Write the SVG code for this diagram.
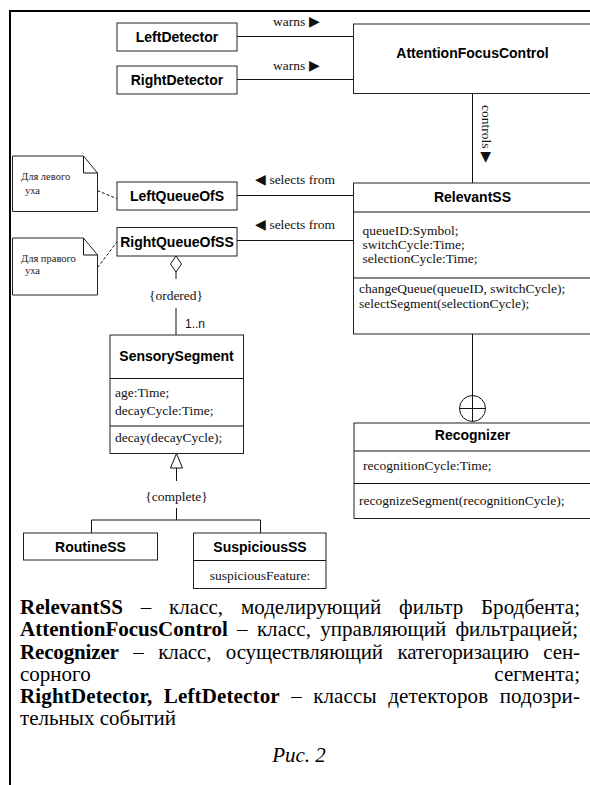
<svg xmlns="http://www.w3.org/2000/svg" width="590" height="785" viewBox="0 0 590 785">
<style>
.box{fill:#fff;stroke:#222;stroke-width:1}
.ln{fill:none;stroke:#111;stroke-width:1}
.dash{fill:none;stroke:#111;stroke-width:1;stroke-dasharray:3 2}
.frame{fill:none;stroke:#000;stroke-width:2}
.cn{font-family:"Liberation Sans",Arial,sans-serif;font-weight:bold;font-size:14px;text-anchor:middle;fill:#000}
.at{font-family:"Liberation Serif","Times New Roman",serif;font-size:13.5px;fill:#111}
.lb{font-family:"Liberation Serif","Times New Roman",serif;font-size:13.5px;fill:#111}
.nt{font-family:"Liberation Serif","Times New Roman",serif;font-size:10.5px;fill:#222}
.mul{font-family:"Liberation Sans",Arial,sans-serif;font-size:12px;fill:#111}
.cap{font-family:"Liberation Serif","Times New Roman",serif;font-size:21px;fill:#000}
.b{font-weight:bold}
</style>
<g id="frame">
<path class="frame" d="M9,11 H590 M10,10 V785"/>
</g>
<g id="connectors">
<path class="ln" d="M237,36.5 H353.5 M237,79.5 H353.5"/>
<path class="ln" d="M472.5,93.5 V183"/>
<path class="ln" d="M237,195.5 H353.5 M237,240.5 H353.5"/>
<path class="dash" d="M83.5,185 L119,199.5"/>
<path class="dash" d="M94.5,271.5 L118.5,240"/>
<path class="ln" d="M176,256 L181.5,264 L176,272 L170.5,264 Z" fill="#fff"/>
<path class="ln" d="M176,272 V279 M176,308 V335"/>
<path class="ln" d="M176.5,453.5 L182.5,468 L170.5,468 Z" fill="#fff"/>
<path class="ln" d="M176.5,468 V481 M176.5,508 V520 M91.5,520 H260.5 M91.5,520 V533 M260.5,520 V533"/>
<path class="ln" d="M472.5,334 V395.5"/>
<circle class="ln" cx="472.5" cy="408.5" r="13"/>
<path class="ln" d="M472.5,395.5 V421.5 M459.5,408.5 H485.5"/>
<text class="lb" x="273" y="26">warns ▶</text>
<text class="lb" x="273" y="70">warns ▶</text>
<text class="lb" transform="translate(482,105) rotate(90)">controls ▶</text>
<text class="lb" x="255" y="183.5">◀ selects from</text>
<text class="lb" x="255" y="229">◀ selects from</text>
<text class="lb" x="176" y="300" text-anchor="middle">{ordered}</text>
<text class="mul" x="185" y="327.5">1..n</text>
<text class="lb" x="176.5" y="500.5" text-anchor="middle">{complete}</text>
</g>
<g id="LeftDetector">
<rect class="box" x="117" y="23" width="120" height="28"/>
<text class="cn" x="177" y="42">LeftDetector</text>
</g>
<g id="RightDetector">
<rect class="box" x="117" y="66" width="120" height="28"/>
<text class="cn" x="177" y="85">RightDetector</text>
</g>
<g id="AttentionFocusControl">
<rect class="box" x="353.5" y="24" width="270" height="69.5"/>
<text class="cn" x="472.5" y="58">AttentionFocusControl</text>
</g>
<g id="RelevantSS">
<rect class="box" x="353.5" y="183" width="270" height="151"/>
<path class="ln" d="M353.5,212 H623.5 M353.5,278 H623.5"/>
<text class="cn" x="472.5" y="201.5">RelevantSS</text>
<text class="at" x="362.5" y="234.5">queueID:Symbol;</text>
<text class="at" x="362.5" y="248.5">switchCycle:Time;</text>
<text class="at" x="362.5" y="262.5">selectionCycle:Time;</text>
<text class="at" x="359" y="293">changeQueue(queueID, switchCycle);</text>
<text class="at" x="359" y="307.5">selectSegment(selectionCycle);</text>
</g>
<g id="LeftQueueOfS">
<rect class="box" x="117" y="182" width="120" height="28"/>
<text class="cn" x="177" y="201">LeftQueueOfS</text>
</g>
<g id="RightQueueOfSS">
<rect class="box" x="117" y="227.5" width="120" height="28.5"/>
<text class="cn" x="177" y="246.5">RightQueueOfSS</text>
</g>
<g id="note-left">
<path class="box" d="M12.5,156 H83.5 L97.5,173 V211.5 H12.5 Z"/>
<path class="ln" d="M83.5,156 V173 H97.5"/>
<text class="nt" x="21" y="179.5">Для левого</text>
<text class="nt" x="25" y="193.5">уха</text>
</g>
<g id="note-right">
<path class="box" d="M12.5,238 H83.5 L97.5,255 V295 H12.5 Z"/>
<path class="ln" d="M83.5,238 V255 H97.5"/>
<text class="nt" x="21" y="261.5">Для правого</text>
<text class="nt" x="25" y="274">уха</text>
</g>
<g id="SensorySegment">
<rect class="box" x="110" y="335" width="133.5" height="118.5"/>
<path class="ln" d="M110,378.5 H243.5 M110,426 H243.5"/>
<text class="cn" x="176.5" y="360.5">SensorySegment</text>
<text class="at" x="115" y="397">age:Time;</text>
<text class="at" x="115" y="414.5">decayCycle:Time;</text>
<text class="at" x="115" y="442">decay(decayCycle);</text>
</g>
<g id="RoutineSS">
<rect class="box" x="23.5" y="533" width="134" height="27"/>
<text class="cn" x="90.5" y="551.5">RoutineSS</text>
</g>
<g id="SuspiciousSS">
<rect class="box" x="193.5" y="533" width="132.5" height="55.5"/>
<path class="ln" d="M193.5,560.5 H326"/>
<text class="cn" x="260" y="551.5">SuspiciousSS</text>
<text class="at" x="260" y="579.5" text-anchor="middle">suspiciousFeature:</text>
</g>
<g id="Recognizer">
<rect class="box" x="354" y="423" width="270" height="95.5"/>
<path class="ln" d="M354,451 H624 M354,483.5 H624"/>
<text class="cn" x="472.5" y="440">Recognizer</text>
<text class="at" x="363" y="470">recognitionCycle:Time;</text>
<text class="at" x="359" y="504.5">recognizeSegment(recognitionCycle);</text>
</g>
<g id="caption">
<text class="cap" x="20" y="614" word-spacing="12.5" textLength="560" lengthAdjust="spacing"><tspan class="b">RelevantSS</tspan> – класс, моделирующий фильтр Бродбента;</text>
<text class="cap" x="20" y="636" word-spacing="4" textLength="558" lengthAdjust="spacing"><tspan class="b">AttentionFocusControl</tspan> – класс, управляющий фильтрацией;</text>
<text class="cap" x="20" y="658.5" word-spacing="9.5" textLength="560" lengthAdjust="spacing"><tspan class="b">Recognizer</tspan> – класс, осуществляющий категоризацию сен-</text>
<text class="cap" x="20" y="681">сорного</text>
<text class="cap" x="580" y="681" text-anchor="end">сегмента;</text>
<text class="cap" x="20" y="703" word-spacing="6" textLength="560" lengthAdjust="spacing"><tspan class="b">RightDetector, LeftDetector</tspan> – классы детекторов подозри-</text>
<text class="cap" x="20" y="725">тельных событий</text>
<text class="cap" x="299" y="762" text-anchor="middle" font-style="italic" font-size="20">Рис. 2</text>
</g>
</svg>
